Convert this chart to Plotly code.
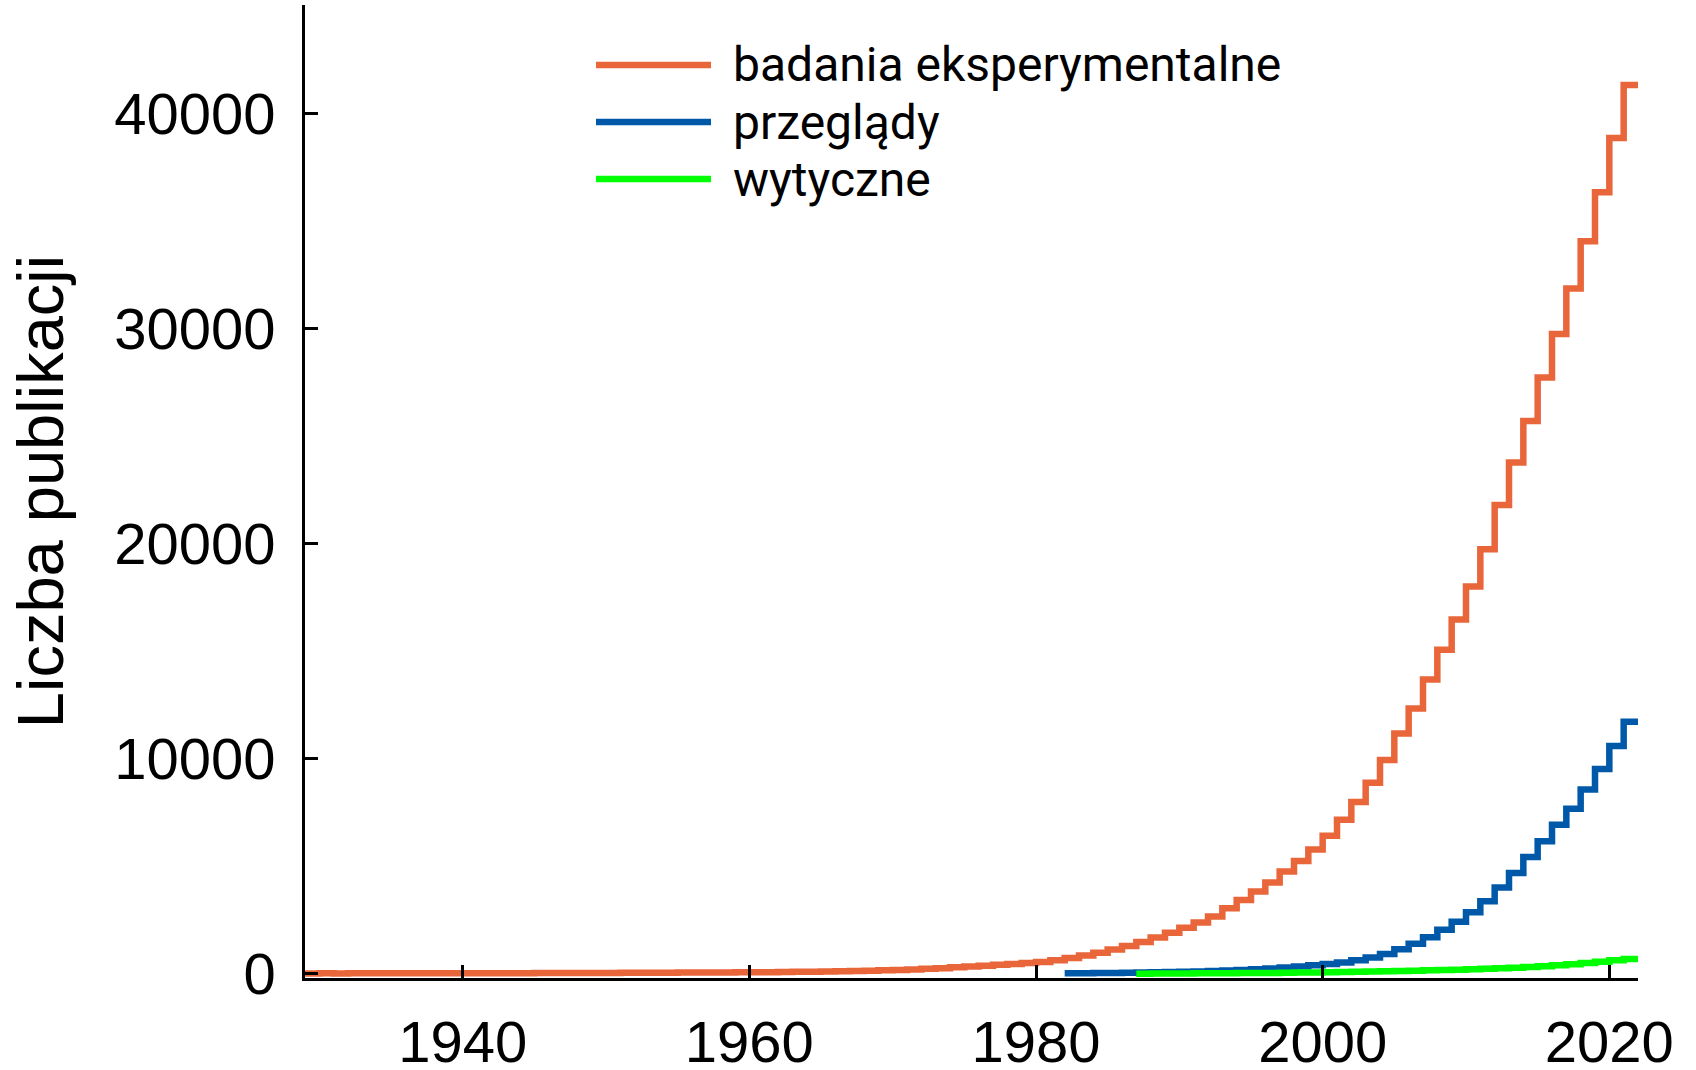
import plotly.graph_objects as go

# ---- data ----
years_exp = list(range(1929, 2023))
vals_exp = [22, 25, 24, 27, 28, 30, 29, 31, 33, 34,
            30, 28, 27, 29, 31, 35, 38, 41, 43, 44,
            46, 48, 50, 52, 55, 57, 60, 62, 65, 68,
            72,
            75, 82, 90, 98, 106, 115, 125, 138, 152, 168,
            185, 205, 235, 268, 305, 342, 382, 420, 462, 505,
            550, 640, 745, 850, 985, 1130, 1300, 1480, 1690, 1910,
            2140, 2390, 2670, 3050, 3440, 3830, 4250, 4760, 5250, 5780,
            6420, 7160, 7990, 8880, 9940, 11170, 12340, 13680, 15060, 16470,
            18000, 19740, 21790, 23770, 25700, 27720, 29740, 31850, 34050, 36330,
            38850, 41310, 41180]

years_rev = list(range(1982, 2023))
vals_rev = [30, 35, 40, 46, 55, 65, 75, 86, 100, 115,
            135, 155, 182, 215, 255, 300, 350, 400, 460, 530,
            630, 760, 930, 1150, 1400, 1700, 2050, 2420, 2860, 3380,
            4020, 4690, 5430, 6160, 6930, 7680, 8570, 9520, 10590, 11720,
            11640]

years_gl = list(range(1987, 2023))
vals_gl = [10, 14, 18, 22, 26, 30, 34, 38, 43, 48,
           54, 60, 68, 77, 88, 100, 112, 125, 138, 152,
           166, 182, 198, 215, 235, 258, 285, 318, 355, 400,
           450, 505, 565, 630, 695, 755]

names = ["badania eksperymentalne", "przeglądy", "wytyczne"]
colors = ["#E9663B", "#0059A8", "#00FF00"]

x_ticks = [1940, 1960, 1980, 2000, 2020]
y_ticks = [0, 10000, 20000, 30000, 40000]

series = [(years_exp, vals_exp), (years_rev, vals_rev), (years_gl, vals_gl)]

# ---- figure geometry ----
W, H = 1696, 1070
L, R, T, B = 305, 58, 5, 92
pw, ph = W - L - R, H - T - B
LW = 6.5

fig = go.Figure()
for (xs, ys), nm, col in zip(series, names, colors):
    fig.add_trace(go.Scatter(x=xs, y=ys, mode="lines", name=nm,
                             line=dict(color=col, width=LW, shape="hv"),
                             showlegend=False))

# custom legend (long line samples as in the reference)
leg_rows = [65, 122, 179]
for nm, col, py in zip(names, colors, leg_rows):
    yp = (H - B - py) / ph
    fig.add_shape(type="line", xref="paper", yref="paper",
                  x0=(596 - L) / pw, x1=(711 - L) / pw, y0=yp, y1=yp,
                  line=dict(color=col, width=LW))
    fig.add_annotation(xref="paper", yref="paper", x=(731 - L) / pw, y=yp,
                       text=nm, showarrow=False, xanchor="left", yanchor="middle",
                       font=dict(family="Roboto", size=48, color="black"))

fig.update_layout(
    width=W, height=H,
    margin=dict(l=L, r=R, t=T, b=B, autoexpand=False),
    paper_bgcolor="white", plot_bgcolor="white",
    font=dict(family="Liberation Sans, Arial, sans-serif", color="black"),
)
fig.update_xaxes(range=[1929, 2022], tickvals=x_ticks, ticktext=[str(v) for v in x_ticks],
                 showgrid=False, zeroline=False, showline=True, linecolor="black", linewidth=2.5,
                 ticks="inside", ticklen=13, tickwidth=2.5, tickcolor="black",
                 tickfont=dict(size=58, family="Liberation Sans"), ticklabelstandoff=12,
                 automargin=False)
fig.update_yaxes(range=[-190, 45030], tickvals=y_ticks, ticktext=[str(v) for v in y_ticks],
                 showgrid=False, zeroline=False, showline=True, linecolor="black", linewidth=2.5,
                 ticks="inside", ticklen=13, tickwidth=2.5, tickcolor="black",
                 tickfont=dict(size=58, family="Liberation Sans"), ticklabelstandoff=15,
                 title=dict(text="Liczba publikacji", font=dict(size=65, family="Liberation Sans"),
                            standoff=30),
                 automargin=False)

fig.write_html("out.html", config={"displayModeBar": False},
               post_script="document.body.style.margin='0';")
